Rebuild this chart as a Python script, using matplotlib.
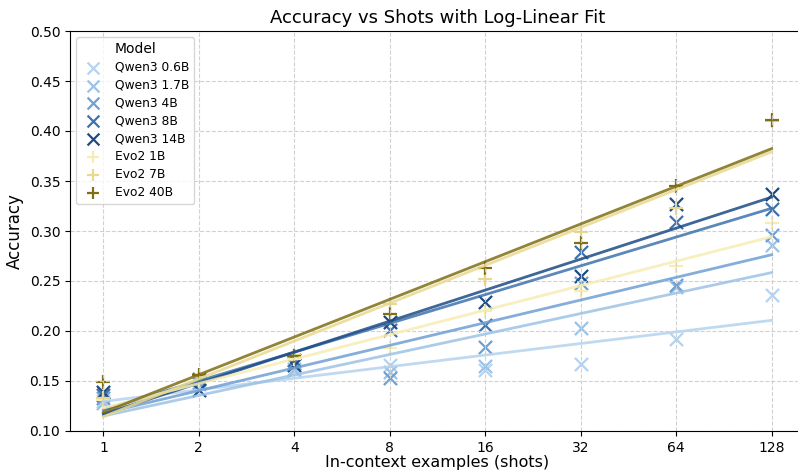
import matplotlib
matplotlib.use("Agg")
import matplotlib.pyplot as plt
import numpy as np

shots = [1, 2, 4, 8, 16, 32, 64, 128]

models = ["Qwen3 0.6B", "Qwen3 1.7B", "Qwen3 4B", "Qwen3 8B", "Qwen3 14B",
          "Evo2 1B", "Evo2 7B", "Evo2 40B"]

qwen3_06b = [0.130, 0.149, 0.160, 0.166, 0.161, 0.167, 0.192, 0.236]
qwen3_17b = [0.128, 0.147, 0.162, 0.159, 0.165, 0.203, 0.244, 0.286]
qwen3_4b = [0.133, 0.148, 0.168, 0.153, 0.184, 0.248, 0.246, 0.296]
qwen3_8b = [0.136, 0.152, 0.171, 0.201, 0.206, 0.279, 0.309, 0.322]
qwen3_14b = [0.139, 0.141, 0.166, 0.209, 0.229, 0.255, 0.327, 0.337]
evo2_1b = [0.131, 0.150, 0.172, 0.183, 0.220, 0.240, 0.265, 0.308]
evo2_7b = [0.133, 0.154, 0.176, 0.227, 0.252, 0.299, 0.323, 0.410]
evo2_40b = [0.149, 0.156, 0.175, 0.217, 0.263, 0.288, 0.345, 0.411]

series = [qwen3_06b, qwen3_17b, qwen3_4b, qwen3_8b, qwen3_14b,
          evo2_1b, evo2_7b, evo2_40b]

colors = ["#b5d3ef", "#9cc2e6", "#6f9fd3", "#3e72ad", "#1c4b85",
          "#f7edb3", "#e9d98f", "#7f6e14"]
markers = ["x"] * 5 + ["+"] * 3

fig = plt.figure(figsize=(7.98, 4.71), dpi=100)
ax = fig.add_axes([70 / 798, 1 - 431 / 471, 735 / 798, 400 / 471])

x = np.array(shots, dtype=float)
lx = np.log2(x)
for name, vals, c, m in zip(models, series, colors, markers):
    ax.scatter(x, vals, marker=m, s=90, linewidths=1.6, color=c, label=name)
    # log-linear fit
    b, a = np.polyfit(lx, vals, 1)
    ax.plot(x, a + b * lx, color=c, lw=2, alpha=0.85)

ax.set_xscale("log", base=2)
ax.set_xlim(2 ** -0.35, 2 ** 7.35)
ax.set_xticks(shots)
ax.set_xticklabels([str(s) for s in shots])
ax.minorticks_off()
ax.set_ylim(0.10, 0.50)
ax.set_yticks(np.arange(0.10, 0.501, 0.05))
ax.tick_params(labelsize=10)

ax.set_xlabel("In-context examples (shots)", fontsize=11.5, labelpad=0)
ax.set_ylabel("Accuracy", fontsize=12)
ax.set_title("Accuracy vs Shots with Log-Linear Fit", fontsize=13)
ax.grid(True, linestyle="--", color="#cccccc", alpha=0.9)

ax.legend(title="Model", loc="upper left", fontsize=8.8, title_fontsize=10,
          labelspacing=0.4, markerscale=0.9)

fig.savefig("out.png", dpi=100)
